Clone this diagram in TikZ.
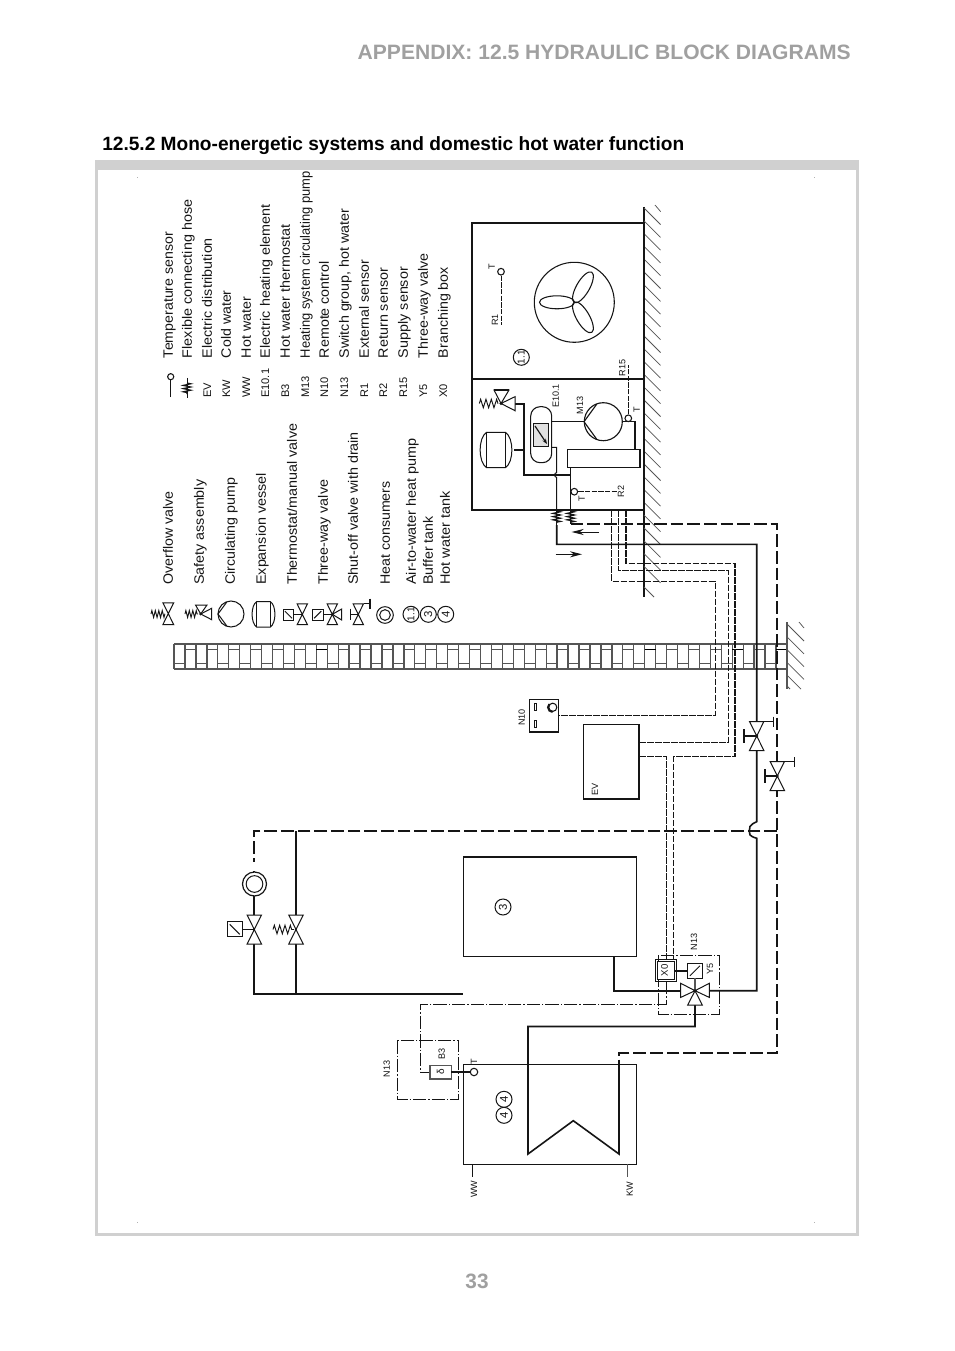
\documentclass[tikz,border=0pt]{standalone}
\usepackage{fontspec}
\usepackage{graphicx}
\setmainfont{Liberation Sans}
\usetikzlibrary{arrows.meta,decorations.pathmorphing}
\definecolor{framegray}{HTML}{D0D0D0}
\definecolor{headgray}{HTML}{A0A0A0}
\definecolor{wallgray}{HTML}{555555}
\definecolor{ink}{HTML}{151515}
\newcommand\fitw[2]{\pgfmathsetmacro\fwv{#1*.75}\resizebox{\fwv pt}{\height}{#2}}
\newcommand\bx[6][]{\pgfmathsetmacro\cxv{(#3+#5)/2}\pgfmathsetmacro\cyv{(#4+#6)/2}\pgfmathsetmacro\wv{(#5-#3)*.75}\pgfmathsetmacro\hv{(#6-#4)*.75}\node[boxst,minimum width=\wv pt,minimum height=\hv pt,#1] (#2) at (\cxv,\cyv) {};}
\tikzset{
 x=.75pt,y=-.75pt,
 thinl/.style={draw=ink,line width=.6pt},
 boxst/.style={draw=ink,line width=.85pt,inner sep=0,outer sep=0,fill=white},
 pipe/.style={draw=ink,line width=1.05pt},
 pipeb/.style={draw=ink,line width=1.4pt,dash pattern=on 9.5pt off 3pt},
 wire/.style={draw=ink,line width=.6pt,dash pattern=on 4pt off 1pt},
 wireb/.style={draw=ink,line width=1pt,dash pattern=on 4pt off 1pt},
 ddot/.style={draw=ink,line width=.6pt,dash pattern=on 10pt off 1.5pt on 1pt off 1.5pt},
 sym/.style={draw=ink,line width=.75pt,fill=white,line join=miter},
 wallst/.style={draw=wallgray,line width=1pt},
 tiny/.style={font=\fontsize{6.8}{7}\selectfont,rotate=90,inner sep=0,text=ink},
 lab/.style={font=\fontsize{10.2}{12}\selectfont,rotate=90,inner sep=0,anchor=base west,text=ink},
 code/.style={font=\fontsize{8.3}{10}\selectfont,rotate=90,inner sep=0,anchor=base west,text=ink},
 ring/.style={circle,draw=ink,line width=.75pt,inner sep=0,fill=white,font=\fontsize{8.5}{9}\selectfont,text=ink},
 sens/.style={circle,draw=ink,line width=.8pt,fill=white,inner sep=0,minimum size=5pt},
 spring/.style={draw=ink,line width=.7pt,decorate,decoration={zigzag,segment length=2.6pt,amplitude=2.6pt}},
 springw/.style={draw=ink,line width=.7pt,decorate,decoration={zigzag,segment length=4pt,amplitude=3.2pt}},
 hosez/.style={draw=ink,line width=.9pt,decorate,decoration={zigzag,segment length=2.4pt,amplitude=2.8pt}},
 hatch/.style={draw=wallgray,line width=.55pt},
 vbow/.pic={\draw[sym] (-7.2,-14.5) -- (7.2,-14.5) -- (-7.2,14.5) -- (7.2,14.5) -- cycle;},
 act/.pic={\draw[sym] (-7.4,-7.4) rectangle (7.4,7.4); \draw[ink,line width=.7pt] (-5,-5) -- (5,5);},
 actr/.pic={\draw[sym] (-7.4,-7.4) rectangle (7.4,7.4); \draw[ink,line width=.7pt] (-5,5) -- (5,-5);},
 vesselp/.pic={\draw[sym] (-9.5,-17.7) .. controls (-18,-12) and (-18,12) .. (-9.5,17.7) -- (9.5,17.7) .. controls (18,12) and (18,-12) .. (9.5,-17.7) -- cycle;
   \draw[ink,line width=.75pt] (-9.5,-17.7) -- (-9.5,17.7) (9.5,-17.7) -- (9.5,17.7);},
}
\begin{document}
\begin{tikzpicture}
\useasboundingbox (0,0) rectangle (954,1351);
\fill[white] (0,0) rectangle (954,1351);
% frame
\fill[framegray] (95,160) rectangle (859,1236);
\fill[white] (98,170) rectangle (856,1233);
\foreach \mx/\my in {137/178,814/178,137/1222,814/1222} \fill[gray!60] (\mx-.5,\my-.5) rectangle (\mx+.5,\my+.5);
% titles
\node[anchor=base east,inner sep=0,text=headgray,font=\fontsize{15.6}{17}\selectfont\bfseries] (head) at (851,60) {\fitw{493}{APPENDIX: 12.5 HYDRAULIC BLOCK DIAGRAMS}};
\node[anchor=base west,inner sep=0,text=black,font=\fontsize{14.4}{16}\selectfont\bfseries] (title) at (102,150.5) {\fitw{582}{12.5.2 Mono-energetic systems and domestic hot water function}};
\node[inner sep=0,text=headgray,font=\fontsize{15.6}{17}\selectfont\bfseries] (pageno) at (477,1281) {33};
% legend texts
\foreach \i/\lx/\lw/\lt in {1/168/93.3/Overflow valve,2/199/105/Safety assembly,3/230/106.7/Circulating pump,4/261/111.7/Expansion vessel,5/292/161/Thermostat\slash manual valve,6/323/105/Three-way valve,7/353/152.7/Shut-off valve with drain,8/385/103.3/Heat consumers,9/411/146.7/Air-to-water heat pump,10/428/68.3/Buffer tank,11/445/93.3/Hot water tank}
  \node[lab] (ll\i) at (\lx+4.8,585) {\fitw{\lw}{\lt}};
\foreach \i/\lx/\lw/\lt in {1/168/126/Temperature sensor,2/187/158.3/Flexible connecting hose,3/207/120/Electric distribution,4/226/67.7/Cold water,5/246/61/Hot water,6/265/153.3/Electric heating element,7/285/133.3/Hot water thermostat,8/305/186.7/Heating system circulating pump,9/324/96.7/Remote control,10/344/149.3/{Switch group, hot water},11/364/98.3/External sensor,12/383/90/Return sensor,13/403/91/Supply sensor,14/423/105/Three-way valve,15/443/91/Branching box}
  \node[lab] (lr\i) at (\lx+4.8,358.3) {\fitw{\lw}{\lt}};
\foreach \i/\lx/\lt in {3/207/EV,4/226/KW,5/246/WW,6/265/E10.1,7/285/B3,8/305/M13,9/324/N10,10/344/N13,11/364/R1,12/383/R2,13/403/R15,14/423/Y5,15/443/X0}
  \node[code] (lc\i) at (\lx+4,398) {\lt};
% legend symbols
\coordinate (lgSa) at (170.7,397); \node[sens,minimum size=4.6pt] (lgSens) at (170.7,376.7) {}; \draw[thinl] (lgSa) -- (lgSens);
\coordinate (lgHa) at (187,378); \coordinate (lgHb) at (187,398); \draw[thinl] (lgHa) -- (lgHb); \draw[hosez] (187,383) -- (187,394);
% overflow
\pic[scale=.75] at (168.3,613.7) {vbow}; \coordinate (lg1s) at (151,614); \coordinate (lg1e) at (165,614); \draw[spring] (lg1s) -- (lg1e);
% safety
\draw[sym] (211.7,608.3) -- (211.7,619.7) -- (200.7,614) -- cycle;
\draw[sym] (195.5,605) -- (207,605) -- (200.7,614) -- cycle;
\fill[ink] (200.7,614) circle (1.5);
\coordinate (lg2s) at (185,614); \coordinate (lg2e) at (198,614); \draw[spring] (lg2s) -- (lg2e);
% pump
\node[circle,draw=ink,line width=.75pt,minimum size=19.5pt,inner sep=0] (lgPump) at (231,614) {};
\draw[ink,line width=.75pt] (226.7,602.2) -- (218,614) -- (226.7,625.8);
% vessel
\pic[scale=.72] at (263.5,614.3) {vesselp};
% thermostat
\pic[scale=.72] at (288.5,614.7) {act}; \pic[scale=.72] at (302.3,614.3) {vbow};
\coordinate (lg5a) at (294,614.5); \coordinate (lg5b) at (302.3,614.5); \draw[thinl] (lg5a) -- (lg5b);
% three-way
\pic[scale=.72] at (317.7,614.7) {actr}; \pic[scale=.72] at (332.3,614.3) {vbow};
\draw[sym] (332.3,614.3) -- (341.7,609) -- (341.7,620) -- cycle;
\coordinate (lg6a) at (323,614.5); \coordinate (lg6b) at (332.3,614.5); \draw[thinl] (lg6a) -- (lg6b);
% shut-off
\pic[scale=.72] at (358.3,614.3) {vbow};
\draw[ink,line width=.9pt] (350.5,614.3) -- (358.3,614.3) (350.5,608.5) -- (350.5,620);
\draw[ink,line width=.9pt] (363.5,603.8) -- (370,603.8) (370,598.5) -- (370,609);
% rings
\node[ring,minimum size=12.5pt] (lgHc) at (385,615) {}; \node[ring,minimum size=8pt] (lgHc2) at (385,615) {};
\node[ring,minimum size=12pt] (lgA) at (411,614.3) {\rotatebox{90}{\fontsize{7.5}{8}\selectfont 1.1}};
\node[ring,minimum size=12pt] (lgB) at (428.3,614.3) {\rotatebox{90}{3}};
\node[ring,minimum size=12pt] (lgC) at (445.7,614.3) {\rotatebox{90}{4}};
% brick wall
\foreach \k in {0,...,56} {\pgfmathsetmacro\wx{174+10.946*\k}\draw[wallst] (\wx,644) -- (\wx,669);}
\draw[wallst] (174,644) -- (787,644) (174,669) -- (787,669);
\foreach \k in {0,...,55} {\pgfmathsetmacro\wx{174+10.946*\k}\pgfmathsetmacro\wxb{\wx+10.946}\pgfmathtruncatemacro\wodd{mod(\k,2)}
  \ifnum\wodd=1 \draw[wallst] (\wx,649.3) -- (\wxb,649.3); \else \draw[wallst] (\wx,663.3) -- (\wxb,663.3); \fi}
\foreach \k in {13,43,51,55} {\pgfmathsetmacro\wx{174+10.946*\k}\pgfmathsetmacro\wxb{\wx+10.946}\draw[black,line width=1.2pt] (\wx,649.3) -- (\wxb,649.3);}
% ground
\coordinate (gndAt) at (644,207); \coordinate (gndAb) at (644,597); \draw[thinl,line width=.9pt] (gndAt) -- (gndAb);
\draw[hatch] (655,205) -- (660.7,211.7);
\foreach \hk in {0,...,28} {\pgfmathsetmacro\hy{208+12.8*\hk}\draw[hatch] (644,\hy) -- (660.5,\hy+16.5);}
\draw[hatch] (644,587) -- (654,597);
\coordinate (gndBt) at (787,622); \coordinate (gndBb) at (787,689); \draw[wallst] (gndBt) -- (gndBb);
\draw[hatch] (799,622) -- (804,628);
\foreach \hk in {0,...,3} {\pgfmathsetmacro\hy{624+12.8*\hk}\draw[hatch] (787,\hy) -- (804,\hy+17);}
\draw[hatch] (787,675.2) -- (801,689.2);
\draw[hatch] (787,686) -- (790,689);
% heat pump housing
\bx[fill=none]{hpOut}{472}{223}{644}{379}
\bx[fill=none]{hpIn}{472}{379}{644}{510}
% fan
\node[circle,draw=ink,line width=.8pt,minimum size=60pt,inner sep=0] (fan) at (574.3,302.3) {};
\draw[ink,line width=.8pt] (557,302.3) ellipse [x radius=17.5,y radius=6.5];
\draw[ink,line width=.8pt,rotate around={120:(574.3,302.3)}] (557,302.3) ellipse [x radius=17.5,y radius=6.5];
\draw[ink,line width=.8pt,rotate around={-120:(574.3,302.3)}] (557,302.3) ellipse [x radius=17.5,y radius=6.5];
% R1
\node[sens] (sR1) at (501,271.7) {}; \coordinate (sR1e) at (501,325); \draw[wire] (sR1) -- (sR1e);
\node[tiny] (tR1t) at (491.7,266.7) {T}; \node[tiny] (tR1) at (495,320) {R1};
\node[ring,minimum size=12pt] (n11) at (521.3,357.3) {\rotatebox{90}{\fontsize{7.5}{8}\selectfont 1.1}};
% internal piping
\coordinate (jPipe) at (570.7,475); \coordinate (hA) at (556.7,510); \coordinate (hB) at (570.7,510);
\draw[pipe,line width=.8pt] (515,404) -- (524,404) -- (524,475) -- (jPipe);
\coordinate (vesC) at (514,450); \coordinate (vesJ) at (524,450); \draw[pipe,line width=.8pt] (vesC) -- (vesJ);
\pic at (496,450) {vesselp};
% safety in box
\draw[sym] (515,396.7) -- (515,410.7) -- (501,403.5) -- cycle;
\draw[sym] (494,390) -- (509,390) -- (501,403.5) -- cycle;
\draw[ink,line width=1.6pt] (493.5,390) -- (509.3,390);
\fill[ink] (501,403.5) circle (1.7);
\coordinate (safS) at (479.3,403.5); \coordinate (safE) at (498,403.5); \draw[springw] (safS) -- (safE);
% electric tank
\node[draw=ink,line width=.8pt,rounded corners=7pt,fill=white,minimum width=15.75pt,minimum height=42pt,inner sep=0] (eTank) at (541.2,434.7) {};
\bx[fill=black!12,line width=.9pt]{eHeat}{533.3}{423.3}{548.3}{446.7}
\coordinate (eA) at (535,426); \coordinate (eB) at (547,444); \draw[ink,line width=.9pt,-{Stealth[length=4pt]}] (eA) -- (eB);
\coordinate (eOutA) at (551.7,421.7); \coordinate (eOutB) at (551.7,447.3);
\coordinate (pA) at (584,421.7);
\draw[pipe,line width=.8pt] (eOutA) -- (pA);
\draw[pipe,line width=.8pt] (eOutB) -- (556.7,447.3) -- (556.7,472.5) .. controls (554,473) and (554,477) .. (556.7,477.5) -- (hA);
% pump in box
\node[circle,draw=ink,line width=.85pt,minimum size=28.5pt,inner sep=0,fill=white] (hpPump) at (603.3,421.7) {};
\draw[ink,line width=.85pt] (596.7,404.2) -- (pA) -- (596.7,439.2);
% condenser
\bx{cond}{567.3}{449.3}{640}{467.3}
\coordinate (condTop) at (635,449.3); \coordinate (pumpOut) at (622.3,421.7);
\draw[pipe,line width=.8pt] (pumpOut) -- (635,421.7) -- (condTop);
\node[sens] (sR15) at (628.3,418.3) {}; \coordinate (sR15e) at (628.3,365); \draw[wire] (sR15) -- (sR15e);
\node[tiny] (tR15) at (622.3,368) {R15}; \node[tiny] (tR15t) at (636.7,410) {T};
\node[tiny] (tE) at (555.7,396) {E10.1}; \node[tiny] (tM) at (580,405.7) {M13};
\coordinate (condOut) at (570.7,467.3); \draw[pipe] (condOut) -- (hB);
\node[sens] (sR2) at (574.3,491.7) {}; \coordinate (sR2e) at (616.7,491.7); \draw[wire] (sR2) -- (sR2e);
\node[tiny] (tR2) at (621,491.7) {R2}; \node[tiny] (tR2t) at (581.7,498.3) {T};
% wires leaving heat pump
\coordinate (wA) at (611.7,510); \coordinate (wB) at (618.7,510); \coordinate (wC) at (626,510);
% hoses
\coordinate (hAe) at (556.7,525); \coordinate (hBe) at (570.7,524);
\draw[pipe] (hA) -- (hAe) (hB) -- (hBe);
\draw[hosez] (556.7,511) -- (556.7,523);
\draw[hosez] (570.7,511) -- (570.7,523);
% arrows
\coordinate (arA) at (599,532); \coordinate (arB) at (571.7,532); \draw[ink,line width=.7pt,-{Stealth[length=9pt,width=4.5pt]}] (arA) -- (arB);
\coordinate (arC) at (555.7,554.3); \coordinate (arD) at (582,554.3); \draw[ink,line width=.7pt,-{Stealth[length=9pt,width=4.5pt]}] (arC) -- (arD);
% remote + EV
\bx[fill=none,line width=1pt]{n10}{529.3}{699.3}{558.7}{732}
\fill[white,draw=ink,line width=.6pt] (534.3,703.3) rectangle (536.7,710) (534.3,720.7) rectangle (536.7,727.3);
\node[sens,minimum size=6.2pt] (knob) at (552.7,707.3) {};
\draw[ink,line width=1.6pt] (549.45,704.05) arc[start angle=225,end angle=90,radius=4.6];
\node[tiny] (tN10) at (521.7,717.3) {N10};
\bx[fill=none,line width=1pt]{ev}{583.7}{724.3}{639}{799}
\node[tiny] (tEV) at (595,789.3) {EV};
% tanks
\bx[fill=none]{buf}{463.3}{857}{636.4}{956.3}
\node[ring,minimum size=12pt] (n3) at (503,907) {\rotatebox{90}{3}};
\bx[fill=none]{hw}{463.3}{1064.3}{636.7}{1164.3}
\node[ring,minimum size=12pt] (n4a) at (504,1099.3) {\rotatebox{90}{4}};
\node[ring,minimum size=12pt] (n4b) at (504,1115.3) {\rotatebox{90}{4}};
% electric routes
\draw[wire,dash pattern=on 5pt off 1pt] (wA) -- (611.7,581) -- (715,581) -- (715,715.7) -- (n10.east |- 0,715.7);
\draw[wire,dash pattern=on 5pt off 1pt] (wB) -- (618.7,570.3) -- (728,570.3) -- (728,742.7) -- (ev.east |- 0,742.7);
\draw[wireb,dash pattern=on 5pt off 1pt,line width=.8pt] (wC) -- (626,563.3) -- (735,563.3) -- (735,756.7) -- (673.8,756.7) -- (673.8,959.3);
\draw[wire,dash pattern=on 5pt off 1pt] (ev.east |- 0,756.7) -- (666.5,756.7) -- (666.5,959.3);
% main pipes
\coordinate (tvR) at (709.5,990.7); \coordinate (tvL) at (681,990.7); \coordinate (tvB) at (695,1005);
\draw[pipe,line width=1.2pt] (hAe) -- (556.7,544.3) -- (756.7,544.3) -- (756.7,821.7) .. controls (749,825) and (749,828) .. (749.3,831) .. controls (749,834) and (749,836) .. (756.7,838.3) -- (756.7,990.7) -- (tvR);
\draw[pipeb] (hBe) -- (777,524) -- (777,1053.3) -- (619,1053.3) -- (619,1065);
\draw[pipeb] (777,831) -- (254,831) -- (254,862);
\draw[pipe,line width=1.2pt] (619,1065) -- (619,1154) -- (573.3,1120.7) -- (528,1154) -- (528,1026.5) -- (695,1026.5) -- (tvB);
\draw[pipe] (296,831) -- (296,994);
\coordinate (bufIn) at (463.3,994); \draw[pipe] (254,871) -- (254,994) -- (bufIn);
\coordinate (bufOut) at (614,956.3); \draw[pipe,line width=1.2pt] (bufOut) -- (614,990.7) -- (tvL);
% valves on mains
\pic at (756.7,736) {vbow}; \fill[ink] (756.7,736) circle (1.6);
\draw[ink,line width=.8pt] (744,736) -- (756.7,736) (744,729) -- (744,743);
\draw[ink,line width=.8pt] (763.9,721.6) -- (773.3,721.6); \draw[ink,line width=1.2pt] (773.3,716.5) -- (773.3,726.7);
\pic at (777.3,776) {vbow}; \fill[ink] (777.3,776) circle (1.6);
\draw[ink,line width=.8pt] (765,776) -- (777.3,776) (765,769) -- (765,783);
\draw[ink,line width=.8pt] (784.5,761.6) -- (794.3,761.6); \draw[ink,line width=1.2pt] (794.3,757) -- (794.3,767);
% three-way Y5 group
\draw[ddot] (658.3,955.3) rectangle (719.3,1014.3);
\bx[fill=none]{xzeroO}{655.3}{959.3}{676.7}{981.7}
\bx{xzero}{657.3}{961.3}{674.7}{979.7}
\node[tiny] (tX0) at (664.6,970.5) {\fontsize{7.2}{8}\selectfont X0};
\node[tiny] (tN13a) at (694,941.7) {N13}; \node[tiny] (tY5) at (710,969) {Y5};
\pic at (695,970.8) {actr};
\coordinate (x0R) at (674.7,970.8); \coordinate (y5L) at (687.6,970.8);
\draw[ink,line width=1.4pt] (x0R) -- (y5L);
\coordinate (y5B) at (695,978.2); \coordinate (tvC) at (695,990.7); \draw[wallst] (y5B) -- (tvC);
\draw[sym] (695,990.7) -- (680.7,983.3) -- (680.7,997.4) -- cycle;
\draw[sym] (695,990.7) -- (709.3,983.3) -- (709.3,997.4) -- cycle;
\draw[sym] (695,990.7) -- (687.7,1005) -- (702.3,1005) -- cycle;
\fill[ink] (695,990.7) circle (1.5);
% B3
\coordinate (x0B) at (666,981); \coordinate (b3L) at (430,1072);
\draw[ddot] (x0B) -- (666,1004.3) -- (420.7,1004.3) -- (420.7,1072) -- (b3L);
\draw[ddot] (397.3,1040.3) rectangle (458.7,1099.3);
\bx[draw=wallgray,line width=1.1pt]{b3}{430}{1065.3}{451.3}{1079}
\node[tiny,text=ink] (dl) at (440.6,1072.2) {\fontsize{7.5}{8}\selectfont δ};
\node[tiny] (tB3) at (441.7,1054) {B3}; \node[tiny] (tN13b) at (386.7,1069) {N13};
\node[sens,minimum size=5.6pt] (sB3) at (474,1072) {}; \draw[pipe,line width=.8pt] (b3.east |- sB3) -- (sB3);
\node[tiny] (tB3t) at (474,1062) {T};
% WW / KW
\coordinate (wwA) at (472.3,1164.3); \coordinate (wwB) at (472.3,1177); \draw[pipe,line width=.8pt] (wwA) -- (wwB);
\coordinate (kwA) at (627.7,1164.3); \coordinate (kwB) at (627.7,1177); \draw[wallst,line width=1.1pt] (kwA) -- (kwB);
\node[tiny] (tWW) at (474,1189) {WW}; \node[tiny] (tKW) at (629.7,1189) {KW};
% heat consumers
\node[ring,minimum size=18pt,line width=.9pt] (hc) at (254.5,884) {}; \node[ring,minimum size=12.5pt] (hc2) at (254.5,884) {};
% consumer valves
\coordinate (a1a) at (242,929.5); \coordinate (a1b) at (254.3,929.5);
\pic at (254.3,929.5) {vbow};
\pic at (234.7,929.3) {act};
\draw[thinl] (a1a) -- (a1b);
\pic at (296,929.5) {vbow};
\coordinate (s2a) at (273,929.5); \coordinate (s2b) at (294,929.5); \draw[springw] (s2a) -- (s2b);
\end{tikzpicture}
\end{document}
